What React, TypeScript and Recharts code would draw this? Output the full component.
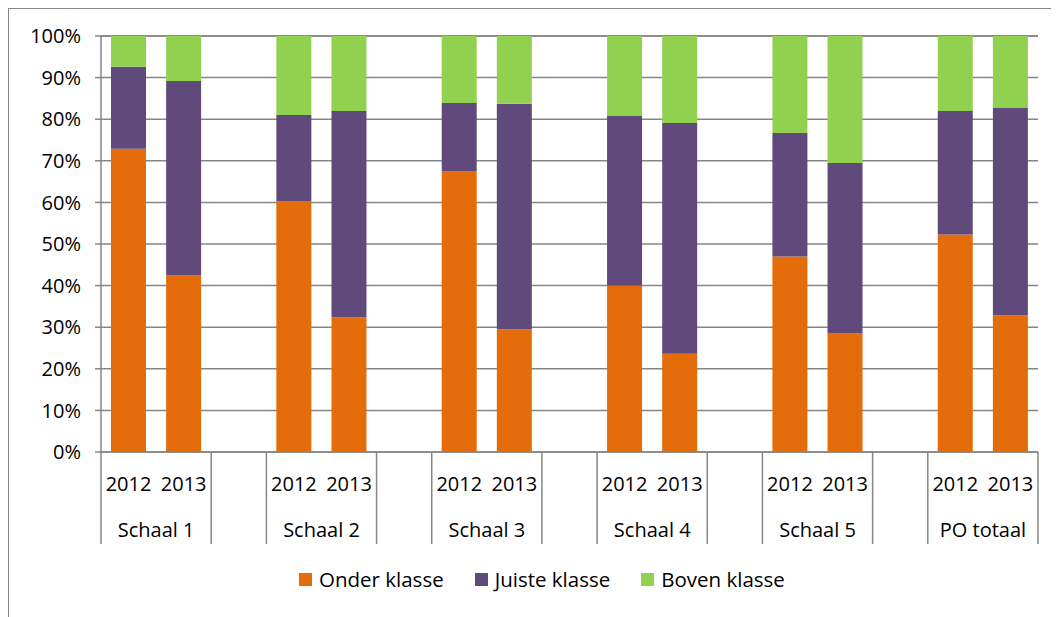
import React from 'react';
import { BarChart, Bar, XAxis, YAxis, CartesianGrid, Legend } from 'recharts';

const groups = ['Schaal 1', 'Schaal 2', 'Schaal 3', 'Schaal 4', 'Schaal 5', 'PO totaal'];
const years = ['2012', '2013'];

// per bar, in order: Schaal 1 2012, Schaal 1 2013, Schaal 2 2012, ...
const onder = [72.9, 42.4, 60.3, 32.4, 67.4, 29.5, 40.0, 23.6, 47.0, 28.5, 52.3, 32.9];
const juiste = [19.7, 46.8, 20.7, 49.6, 16.5, 54.2, 40.9, 55.5, 29.7, 41.0, 29.7, 49.8];
const boven = [7.4, 10.8, 19.0, 18.0, 16.1, 16.3, 19.1, 20.9, 23.3, 30.5, 18.0, 17.3];

const yTicks = [0, 10, 20, 30, 40, 50, 60, 70, 80, 90, 100];

const seriesNames = ['Onder klasse', 'Juiste klasse', 'Boven klasse'];
const COLORS = ['#E46C0A', '#604A7B', '#92D050'];

const FONT = '"Open Sans", sans-serif';
const AXIS = '#868686';

// rows for the chart: two years per group, empty slot between groups
const rows: any[] = [];
groups.forEach((g, gi) => {
  years.forEach((y, yi) => {
    const i = gi * 2 + yi;
    rows.push({ id: `${g}-${y}`, year: y, group: g, yi, onder: onder[i], juiste: juiste[i], boven: boven[i] });
  });
  if (gi < groups.length - 1) rows.push({ id: `gap-${gi}`, year: '', group: '', yi: -1 });
});

const W = 1051;
const H = 609;
const PLOT_W = 936;
const SLOT = PLOT_W / rows.length;

const XTick = (props: any) => {
  const { x, y, index } = props;
  const row = rows[index];
  if (!row || row.yi < 0) return null;
  const half = SLOT / 2;
  return (
    <g>
      <text x={x} y={y + 39} textAnchor="middle" fontSize={20} fontFamily={FONT} fill="#000">
        {row.year}
      </text>
      {row.yi === 0 && (
        <line x1={x - half} y1={y} x2={x - half} y2={y + 92} stroke={AXIS} strokeWidth={1.5} />
      )}
      {row.yi === 1 && (
        <>
          <line x1={x + half} y1={y} x2={x + half} y2={y + 92} stroke={AXIS} strokeWidth={1.5} />
          <text x={x - half} y={y + 85} textAnchor="middle" fontSize={20} fontFamily={FONT} fill="#000">
            {row.group}
          </text>
        </>
      )}
    </g>
  );
};

const LegendContent = () => (
  <div style={{ display: 'flex', justifyContent: 'flex-start', alignItems: 'flex-start', height: 64, paddingTop: 14, paddingLeft: 290, boxSizing: 'border-box', fontFamily: FONT, fontSize: 20.5, lineHeight: '27px', color: '#000' }}>
    {seriesNames.map((n, i) => (
      <div key={n} style={{ display: 'flex', alignItems: 'center', marginRight: i < 2 ? 31 : 0 }}>
        <span style={{ display: 'inline-block', width: 13, height: 13, background: COLORS[i], marginRight: 7 }} />
        <span>{n}</span>
      </div>
    ))}
  </div>
);

export default function App() {
  return (
    <div style={{ width: W, height: H, borderLeft: `1.5px solid ${AXIS}`, borderTop: `1.5px solid ${AXIS}`, boxSizing: 'border-box', background: '#fff' }}>
      <BarChart width={W - 2} height={H - 2} data={rows} margin={{ top: 27, right: 20, bottom: 0, left: 0 }} barSize={35}>
        <CartesianGrid vertical={false} stroke={AXIS} strokeWidth={1.5} />
        <XAxis
          dataKey="id"
          height={100}
          tickLine={false}
          tickSize={0}
          tickMargin={0}
          interval={0}
          tick={<XTick />}
          axisLine={{ stroke: AXIS, strokeWidth: 1.5 }}
        />
        <YAxis
          width={92}
          domain={[0, 100]}
          ticks={yTicks}
          tickFormatter={(v: number) => `${v}%`}
          tickSize={6}
          tickMargin={14}
          tickLine={{ stroke: AXIS, strokeWidth: 1.5 }}
          axisLine={{ stroke: AXIS, strokeWidth: 1.5 }}
          tick={{ fontSize: 20, fontFamily: FONT, fill: '#000' }}
        />
        <Legend verticalAlign="bottom" height={64} content={<LegendContent />} />
        <Bar dataKey="onder" name={seriesNames[0]} stackId="a" fill={COLORS[0]} isAnimationActive={false} />
        <Bar dataKey="juiste" name={seriesNames[1]} stackId="a" fill={COLORS[1]} isAnimationActive={false} />
        <Bar dataKey="boven" name={seriesNames[2]} stackId="a" fill={COLORS[2]} isAnimationActive={false} />
      </BarChart>
    </div>
  );
}
